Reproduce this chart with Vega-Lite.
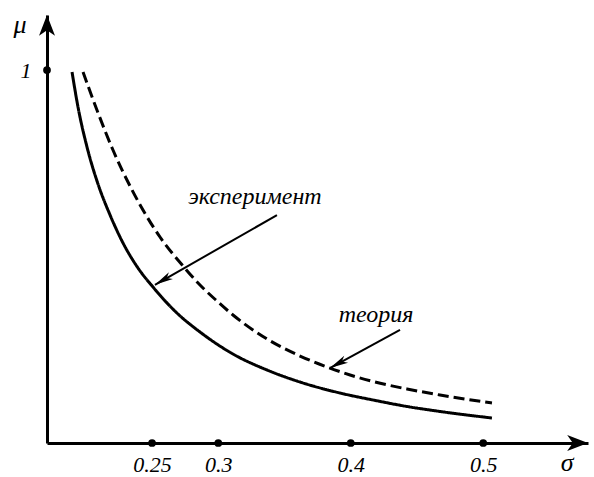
{
  "$schema": "https://vega.github.io/schema/vega-lite/v6.json",
  "width": 541,
  "height": 428,
  "autosize": "none",
  "padding": {"left": 47, "top": 15, "right": 6, "bottom": 34},
  "background": "white",
  "config": {"view": {"stroke": null}},
  "datasets": {
    "curves": [
      {"series": "эксперимент", "s": 0.1896, "mu": 0.9946},
      {"series": "эксперимент", "s": 0.1941, "mu": 0.9008},
      {"series": "эксперимент", "s": 0.2009, "mu": 0.7936},
      {"series": "эксперимент", "s": 0.2092, "mu": 0.6944},
      {"series": "эксперимент", "s": 0.2183, "mu": 0.6113},
      {"series": "эксперимент", "s": 0.2281, "mu": 0.5362},
      {"series": "эксперимент", "s": 0.2394, "mu": 0.4692},
      {"series": "эксперимент", "s": 0.2507, "mu": 0.4182},
      {"series": "эксперимент", "s": 0.2688, "mu": 0.3485},
      {"series": "эксперимент", "s": 0.2862, "mu": 0.2976},
      {"series": "эксперимент", "s": 0.3111, "mu": 0.2386},
      {"series": "эксперимент", "s": 0.3368, "mu": 0.1957},
      {"series": "эксперимент", "s": 0.3617, "mu": 0.1635},
      {"series": "эксперимент", "s": 0.3919, "mu": 0.1340},
      {"series": "эксперимент", "s": 0.4168, "mu": 0.1153},
      {"series": "эксперимент", "s": 0.4425, "mu": 0.0979},
      {"series": "эксперимент", "s": 0.4674, "mu": 0.0845},
      {"series": "эксперимент", "s": 0.5066, "mu": 0.0670},
      {"series": "теория", "s": 0.1979, "mu": 0.9946},
      {"series": "теория", "s": 0.2084, "mu": 0.8928},
      {"series": "теория", "s": 0.2205, "mu": 0.7855},
      {"series": "теория", "s": 0.2349, "mu": 0.6783},
      {"series": "теория", "s": 0.2560, "mu": 0.5523},
      {"series": "теория", "s": 0.2734, "mu": 0.4745},
      {"series": "теория", "s": 0.2862, "mu": 0.4236},
      {"series": "теория", "s": 0.2990, "mu": 0.3807},
      {"series": "теория", "s": 0.3111, "mu": 0.3432},
      {"series": "теория", "s": 0.3368, "mu": 0.2788},
      {"series": "теория", "s": 0.3617, "mu": 0.2332},
      {"series": "теория", "s": 0.3821, "mu": 0.2038},
      {"series": "теория", "s": 0.3995, "mu": 0.1823},
      {"series": "теория", "s": 0.4168, "mu": 0.1649},
      {"series": "теория", "s": 0.4425, "mu": 0.1448},
      {"series": "теория", "s": 0.4674, "mu": 0.1287},
      {"series": "теория", "s": 0.5066, "mu": 0.1072}
    ],
    "dots": [
      {"s": 0.25, "mu": 0},
      {"s": 0.3, "mu": 0},
      {"s": 0.4, "mu": 0},
      {"s": 0.5, "mu": 0},
      {"s": 0.1707, "mu": 1}
    ],
    "arrowExp": [{"s": 0.3443, "mu": 0.611, "s2": 0.2522, "mu2": 0.424}],
    "arrowTheo": [{"s": 0.4372, "mu": 0.303, "s2": 0.3843, "mu2": 0.201}],
    "axisTipX": [{"s": 0.5791, "mu": 0}],
    "axisTipY": [{"s": 0.1707, "mu": 1.1475}],
    "labels": [
      {"label": "эксперимент", "s": 0.3277, "mu": 0.6595},
      {"label": "теория", "s": 0.4191, "mu": 0.343}
    ],
    "axisNames": [
      {"label": "μ", "s": 0.1503, "mu": 1.1206},
      {"label": "σ", "s": 0.5633, "mu": -0.0536}
    ]
  },
  "layer": [
    {
      "data": {"name": "curves"},
      "mark": {"type": "line", "interpolate": "monotone", "strokeWidth": 3, "color": "black"},
      "encoding": {
        "x": {
          "field": "s", "type": "quantitative",
          "scale": {"domain": [0.1707, 0.5791], "nice": false, "zero": false},
          "axis": {"values": [0.25, 0.3, 0.4, 0.5], "format": ".2~f", "title": null, "grid": false, "ticks": false,
                   "labelPadding": 11, "labelFont": "Liberation Serif, Times New Roman, DejaVu Serif, serif", "labelFontStyle": "italic", "labelFontSize": 22,
                   "labelColor": "black", "domainColor": "black", "domainWidth": 3, "labelFontWeight": "normal"}
        },
        "y": {
          "field": "mu", "type": "quantitative",
          "scale": {"domain": [0, 1.1475], "nice": false, "zero": false},
          "axis": {"values": [1], "format": "d", "title": null, "grid": false, "ticks": false,
                   "labelPadding": 16, "labelFont": "Liberation Serif, Times New Roman, DejaVu Serif, serif", "labelFontStyle": "italic", "labelFontSize": 22,
                   "labelColor": "black", "domainColor": "black", "domainWidth": 3}
        },
        "detail": {"field": "series"},
        "strokeDash": {
          "field": "series", "type": "nominal",
          "scale": {"domain": ["эксперимент", "теория"], "range": [[1, 0], [11, 5]]},
          "legend": null
        }
      }
    },
    {
      "data": {"name": "dots"},
      "mark": {"type": "point", "shape": "circle", "filled": true, "size": 60, "color": "black", "opacity": 1},
      "encoding": {"x": {"field": "s", "type": "quantitative"}, "y": {"field": "mu", "type": "quantitative"}}
    },
    {
      "data": {"name": "arrowExp"},
      "mark": {"type": "rule", "strokeWidth": 2, "color": "black"},
      "encoding": {
        "x": {"field": "s", "type": "quantitative"}, "y": {"field": "mu", "type": "quantitative"},
        "x2": {"field": "s2"}, "y2": {"field": "mu2"}
      }
    },
    {
      "data": {"name": "arrowExp"},
      "mark": {"type": "point", "shape": "M0,0L-0.5,2.3L0,1.7L0.5,2.3Z", "filled": true, "size": 256, "angle": 240, "color": "black", "opacity": 1},
      "encoding": {"x": {"field": "s2", "type": "quantitative"}, "y": {"field": "mu2", "type": "quantitative"}}
    },
    {
      "data": {"name": "arrowTheo"},
      "mark": {"type": "rule", "strokeWidth": 2, "color": "black"},
      "encoding": {
        "x": {"field": "s", "type": "quantitative"}, "y": {"field": "mu", "type": "quantitative"},
        "x2": {"field": "s2"}, "y2": {"field": "mu2"}
      }
    },
    {
      "data": {"name": "arrowTheo"},
      "mark": {"type": "point", "shape": "M0,0L-0.5,2.3L0,1.7L0.5,2.3Z", "filled": true, "size": 256, "angle": 241.5, "color": "black", "opacity": 1},
      "encoding": {"x": {"field": "s2", "type": "quantitative"}, "y": {"field": "mu2", "type": "quantitative"}}
    },
    {
      "data": {"name": "axisTipX"},
      "mark": {"type": "point", "shape": "M0,0L-1,2.6L0,1.9L1,2.6Z", "filled": true, "size": 256, "angle": 90, "color": "black", "opacity": 1},
      "encoding": {"x": {"field": "s", "type": "quantitative"}, "y": {"field": "mu", "type": "quantitative"}}
    },
    {
      "data": {"name": "axisTipY"},
      "mark": {"type": "point", "shape": "M0,0L-1,2.6L0,1.9L1,2.6Z", "filled": true, "size": 256, "angle": 0, "color": "black", "opacity": 1},
      "encoding": {"x": {"field": "s", "type": "quantitative"}, "y": {"field": "mu", "type": "quantitative"}}
    },
    {
      "data": {"name": "labels"},
      "mark": {"type": "text", "font": "Liberation Serif, Times New Roman, DejaVu Serif, serif", "fontStyle": "italic", "fontSize": 24, "color": "black", "align": "center", "baseline": "middle"},
      "encoding": {"x": {"field": "s", "type": "quantitative"}, "y": {"field": "mu", "type": "quantitative"}, "text": {"field": "label"}}
    },
    {
      "data": {"name": "axisNames"},
      "mark": {"type": "text", "font": "Liberation Serif, Times New Roman, DejaVu Serif, serif", "fontStyle": "italic", "fontSize": 26, "color": "black", "align": "center", "baseline": "middle"},
      "encoding": {"x": {"field": "s", "type": "quantitative"}, "y": {"field": "mu", "type": "quantitative"}, "text": {"field": "label"}}
    }
  ]
}
